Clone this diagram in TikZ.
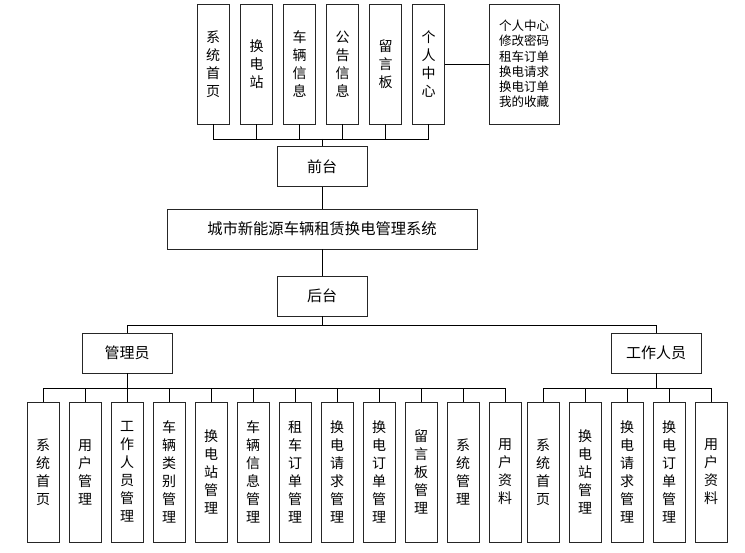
\documentclass[tikz,border=0pt]{standalone}
\usepackage{fontspec}
\setmainfont{Noto Sans CJK SC}
\begin{document}
\begin{tikzpicture}[x=1pt,y=-1pt,
  box/.style={draw=black!85,line width=0.8pt,fill=white,inner sep=0pt,font=\fontsize{14}{18}\selectfont,align=center},
  vbox/.style={box,minimum width=32pt,minimum height=120pt},
  vboxb/.style={box,minimum width=32pt,minimum height=140pt},
  hbox/.style={box,minimum width=90pt,minimum height=40pt,font=\fontsize{15}{17}\selectfont},
  conn/.style={draw=black,line width=0.8pt}]
\useasboundingbox (0,0) rectangle (745,553);
% top row
\node[vbox] (t1) at (213,64) {系\\统\\首\\页};
\node[vbox] (t2) at (256.5,64) {换\\电\\站};
\node[vbox] (t3) at (299.5,64) {车\\辆\\信\\息};
\node[vbox] (t4) at (342.5,64) {公\\告\\信\\息};
\node[vbox] (t5) at (385.5,64) {留\\言\\板};
\node[vbox] (t6) at (428.5,64) {个\\人\\中\\心};
\node[box,minimum width=70pt,minimum height=120pt,font=\fontsize{12.5}{15.3}\selectfont] (t7) at (524,64) {个人中心\\修改密码\\租车订单\\换电请求\\换电订单\\我的收藏};
\draw[conn] (t6.east) -- (t7.west);
\node[hbox] (qt) at (322,166.5) {前台};
\coordinate (tb) at (322,139);
\foreach \n in {t1,t2,t3,t4,t5,t6}{\draw[conn] (\n.south) -- (\n.south |- tb);}
\draw[conn] (t1.south |- tb) -- (t6.south |- tb);
\draw[conn] (tb) -- (qt.north);
% main
\node[box,minimum width=310pt,minimum height=40pt,font=\fontsize{15.3}{17}\selectfont] (main) at (322,229) {城市新能源车辆租赁换电管理系统};
\draw[conn] (qt.south) -- (main.north);
\node[hbox] (ht) at (322,296) {后台};
\draw[conn] (main.south) -- (ht.north);
% roles
\coordinate (rb) at (322,325);
\node[hbox] (gly) at (127,353) {管理员};
\node[hbox] (gzry) at (656,353) {工作人员};
\draw[conn] (ht.south) -- (rb);
\draw[conn] (gly.north) -- (gly.north |- rb) -- (gzry.north |- rb) -- (gzry.north);
% admin children
\coordinate (ab) at (127,388);
\foreach \i/\t in {0/{系\\统\\首\\页},1/{用\\户\\管\\理},2/{工\\作\\人\\员\\管\\理},3/{车\\辆\\类\\别\\管\\理},4/{换\\电\\站\\管\\理},5/{车\\辆\\信\\息\\管\\理},6/{租\\车\\订\\单\\管\\理},7/{换\\电\\请\\求\\管\\理},8/{换\\电\\订\\单\\管\\理},9/{留\\言\\板\\管\\理},10/{系\\统\\管\\理},11/{用\\户\\资\\料}}{
  \node[vboxb] (a\i) at ({43+42*\i},472) {\t};
  \draw[conn] (a\i.north) -- (a\i.north |- ab);
}
\draw[conn] (a0.north |- ab) -- (a11.north |- ab);
\draw[conn] (gly.south) -- (ab);
% worker children
\coordinate (wb) at (656,388);
\foreach \i/\t in {0/{系\\统\\首\\页},1/{换\\电\\站\\管\\理},2/{换\\电\\请\\求\\管\\理},3/{换\\电\\订\\单\\管\\理},4/{用\\户\\资\\料}}{
  \node[vboxb] (w\i) at ({543+42*\i},472) {\t};
  \draw[conn] (w\i.north) -- (w\i.north |- wb);
}
\draw[conn] (w0.north |- wb) -- (w4.north |- wb);
\draw[conn] (gzry.south) -- (wb);
\end{tikzpicture}
\end{document}
